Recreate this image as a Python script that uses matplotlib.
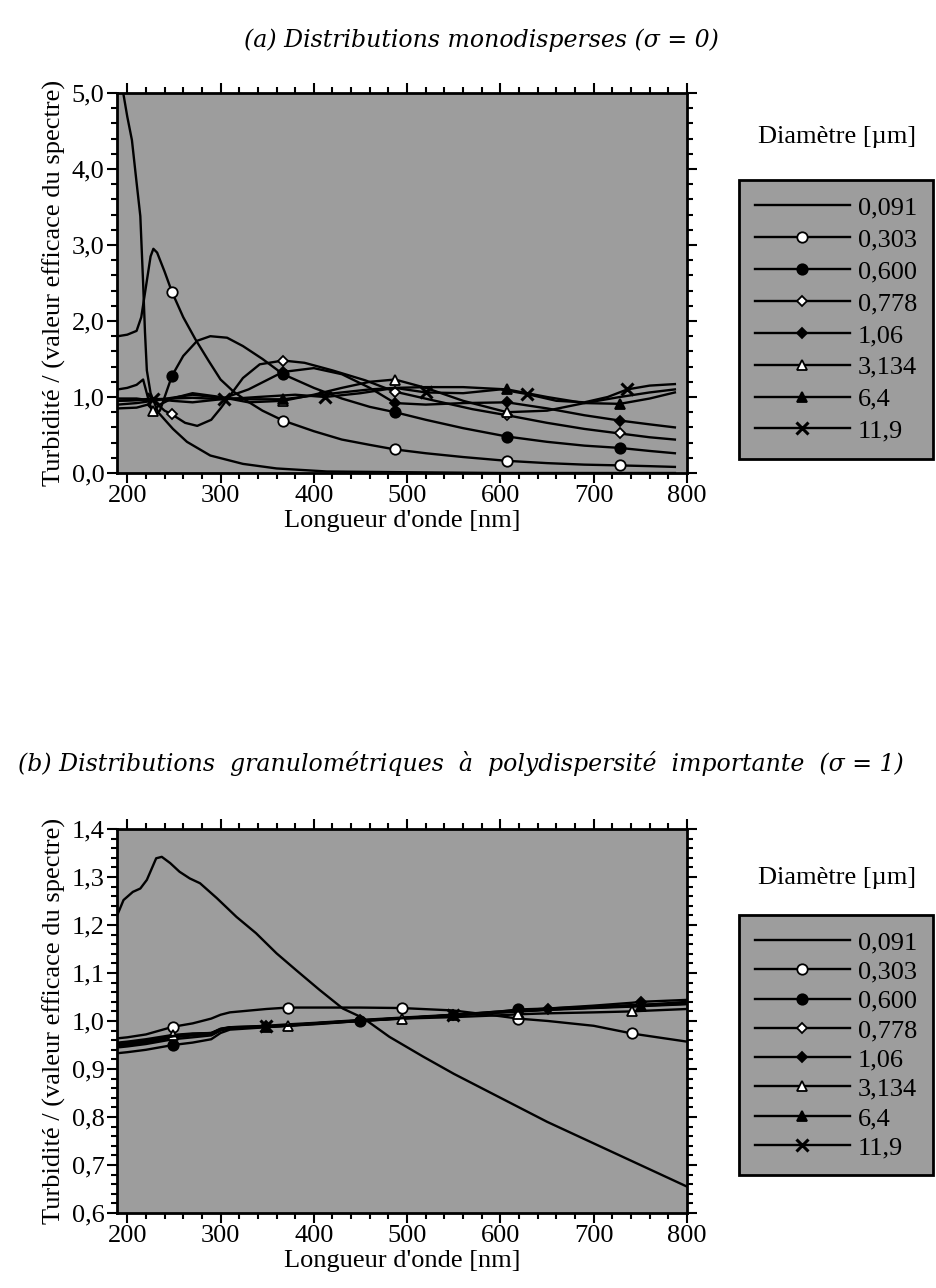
import numpy as np
import matplotlib
matplotlib.use("Agg")
from matplotlib import pyplot as plt
from matplotlib.ticker import MultipleLocator, FuncFormatter

# ---- (a) sigma = 0 : distributions monodisperses ----
top_x_091 = [191, 195, 200, 205, 210, 214, 217, 219, 221, 225, 233, 249, 264, 289, 324, 360, 414, 500, 600, 700, 787]
top_y_091 = [5.60, 5.05, 4.69, 4.38, 3.82, 3.38, 2.50, 1.85, 1.35, 1.05, 0.80, 0.58, 0.41, 0.23, 0.12, 0.06, 0.02, 0.01, 0.0, 0.0, 0.0]

top_x_303 = [190, 200, 210, 215, 220, 225, 228, 232, 240, 248, 260, 273, 287, 300, 314, 328, 345, 367, 400, 430, 460, 487, 520, 560, 607, 650, 690, 728, 760, 787]
top_y_303 = [1.80, 1.82, 1.87, 2.05, 2.45, 2.85, 2.95, 2.90, 2.65, 2.38, 2.05, 1.76, 1.48, 1.23, 1.07, 0.95, 0.82, 0.69, 0.55, 0.44, 0.37, 0.31, 0.26, 0.21, 0.16, 0.13, 0.11, 0.10, 0.09, 0.08]

top_x_600 = [190, 200, 210, 217, 222, 228, 235, 248, 260, 275, 289, 307, 324, 345, 367, 400, 430, 460, 487, 520, 560, 607, 650, 690, 728, 760, 787]
top_y_600 = [1.10, 1.12, 1.16, 1.23, 1.00, 0.76, 0.82, 1.28, 1.54, 1.74, 1.80, 1.78, 1.67, 1.50, 1.30, 1.12, 0.98, 0.87, 0.80, 0.70, 0.59, 0.48, 0.41, 0.36, 0.33, 0.29, 0.26]

top_x_778 = [190, 210, 228, 240, 248, 262, 275, 290, 300, 312, 324, 342, 367, 390, 420, 455, 487, 530, 570, 607, 650, 690, 728, 760, 787]
top_y_778 = [0.90, 0.92, 0.95, 0.82, 0.77, 0.66, 0.62, 0.70, 0.85, 1.05, 1.25, 1.43, 1.48, 1.45, 1.35, 1.22, 1.07, 0.95, 0.84, 0.76, 0.66, 0.58, 0.52, 0.47, 0.44]

top_x_106 = [190, 210, 228, 248, 270, 300, 330, 367, 400, 430, 460, 487, 520, 560, 607, 650, 690, 728, 760, 787]
top_y_106 = [0.95, 0.96, 0.98, 0.95, 0.93, 0.97, 1.10, 1.33, 1.38, 1.30, 1.12, 0.92, 0.90, 0.92, 0.93, 0.85, 0.76, 0.69, 0.64, 0.60]

top_x_3134 = [190, 210, 222, 228, 235, 248, 270, 300, 330, 367, 400, 430, 460, 487, 520, 560, 607, 650, 690, 728, 760, 787]
top_y_3134 = [0.85, 0.86, 0.90, 0.82, 0.90, 0.98, 1.05, 1.00, 0.93, 0.95, 1.03, 1.12, 1.20, 1.23, 1.12, 0.95, 0.80, 0.82, 0.92, 1.00, 1.06, 1.10]

top_x_64 = [190, 210, 228, 248, 270, 300, 330, 367, 400, 430, 460, 487, 520, 560, 607, 650, 690, 728, 760, 787]
top_y_64 = [0.98, 0.98, 0.95, 0.99, 1.03, 0.99, 0.97, 0.97, 1.02, 1.06, 1.10, 1.12, 1.13, 1.13, 1.10, 1.00, 0.92, 0.91, 0.98, 1.06]

top_x_119 = [190, 210, 228, 248, 270, 304, 340, 380, 412, 450, 487, 520, 560, 600, 628, 660, 690, 715, 736, 760, 787]
top_y_119 = [0.95, 0.96, 0.97, 0.98, 0.99, 0.97, 1.00, 1.03, 1.00, 1.05, 1.12, 1.06, 1.05, 1.10, 1.04, 0.95, 0.93, 1.00, 1.10, 1.15, 1.17]

top_marks = {
    "0,091": [],
    "0,303": [248, 367, 487, 607, 728],
    "0,600": [248, 367, 487, 607, 728],
    "0,778": [248, 367, 487, 607, 728],
    "1,06": [367, 487, 607, 728],
    "3,134": [228, 367, 487, 607],
    "6,4": [367, 607, 728],
    "11,9": [228, 304, 412, 520, 628, 736],
}

# ---- (b) sigma = 1 : forte polydispersite ----
bot_x_091 = [190, 196, 206, 214, 221, 231, 237, 246, 256, 267, 278, 296, 317, 338, 360, 381, 406, 431, 453, 481, 517, 550, 600, 650, 700, 750, 800]
bot_y_091 = [1.224, 1.252, 1.269, 1.276, 1.294, 1.339, 1.342, 1.329, 1.311, 1.297, 1.287, 1.256, 1.217, 1.183, 1.141, 1.106, 1.065, 1.026, 1.006, 0.967, 0.926, 0.890, 0.840, 0.790, 0.745, 0.700, 0.655]

bot_x = [190, 200, 220, 249, 270, 290, 300, 310, 349, 372, 400, 449, 494, 549, 600, 619, 651, 700, 741, 751, 800]
bot_y_303 = [0.964, 0.966, 0.972, 0.988, 0.995, 1.005, 1.013, 1.018, 1.025, 1.028, 1.028, 1.028, 1.027, 1.022, 1.010, 1.005, 1.000, 0.990, 0.974, 0.971, 0.957]
bot_y_600 = [0.933, 0.935, 0.940, 0.950, 0.955, 0.962, 0.975, 0.982, 0.987, 0.990, 0.993, 1.000, 1.005, 1.012, 1.020, 1.024, 1.026, 1.030, 1.033, 1.034, 1.037]
bot_y_778 = [0.945, 0.947, 0.952, 0.962, 0.966, 0.970, 0.980, 0.985, 0.989, 0.991, 0.995, 1.001, 1.006, 1.012, 1.018, 1.020, 1.024, 1.028, 1.032, 1.033, 1.040]
bot_y_106 = [0.947, 0.950, 0.955, 0.966, 0.970, 0.973, 0.983, 0.987, 0.990, 0.993, 0.996, 1.002, 1.007, 1.013, 1.020, 1.022, 1.026, 1.032, 1.038, 1.040, 1.044]
bot_y_3134 = [0.955, 0.957, 0.962, 0.971, 0.974, 0.975, 0.982, 0.985, 0.988, 0.990, 0.995, 1.000, 1.005, 1.008, 1.012, 1.014, 1.016, 1.018, 1.020, 1.021, 1.025]
bot_y_64 = [0.950, 0.952, 0.957, 0.968, 0.972, 0.974, 0.983, 0.986, 0.988, 0.990, 0.994, 1.000, 1.006, 1.012, 1.018, 1.020, 1.023, 1.027, 1.030, 1.031, 1.035]
bot_y_119 = [0.952, 0.954, 0.959, 0.969, 0.973, 0.975, 0.984, 0.987, 0.989, 0.991, 0.995, 1.001, 1.006, 1.012, 1.018, 1.021, 1.024, 1.028, 1.031, 1.032, 1.036]

bot_marks = {
    "0,091": [],
    "0,303": [249, 372, 494, 619, 741],
    "0,600": [249, 449, 619],
    "0,778": [349, 549, 751],
    "1,06": [449, 651, 751],
    "3,134": [249, 372, 494, 619, 741],
    "6,4": [349, 549, 751],
    "11,9": [349, 549],
}

labels = ["0,091", "0,303", "0,600", "0,778", "1,06", "3,134", "6,4", "11,9"]

# marker style for each diameter
styles = {
    "0,091": dict(marker=None),
    "0,303": dict(marker="o", mfc="white", ms=7.5),
    "0,600": dict(marker="o", mfc="black", ms=7.5),
    "0,778": dict(marker="D", mfc="white", ms=5.5),
    "1,06": dict(marker="D", mfc="black", ms=5.5),
    "3,134": dict(marker="^", mfc="white", ms=7.5),
    "6,4": dict(marker="^", mfc="black", ms=7.5),
    "11,9": dict(marker="x", mfc="black", ms=8, mew=2.2),
}

SERIF = "Liberation Serif"
BG = "#9d9d9d"
FS = 19
plt.rcParams["font.family"] = SERIF
plt.rcParams["font.size"] = FS


def comma(v, pos):
    return ("%.1f" % v).replace(".", ",")


def draw(ax, series, marks, ylim, ymaj, ymin_):
    handles = []
    for lab in labels:
        xs, ys = series[lab]
        st = dict(styles[lab])
        mk = st.pop("marker")
        idx = [xs.index(m) for m in marks[lab]]
        mew = st.pop("mew", 1.3)
        h, = ax.plot(xs, ys, color="black", lw=1.7, marker=mk, markevery=idx if mk else None,
                     mec="black", mew=mew, label=lab, **st)
        handles.append(h)
    ax.set_facecolor(BG)
    ax.set_xlim(189, 800)
    ax.set_ylim(*ylim)
    ax.xaxis.set_major_locator(MultipleLocator(100))
    ax.xaxis.set_minor_locator(MultipleLocator(20))
    ax.yaxis.set_major_locator(MultipleLocator(ymaj))
    ax.yaxis.set_minor_locator(MultipleLocator(ymin_))
    ax.yaxis.set_major_formatter(FuncFormatter(comma))
    ax.tick_params(which="both", direction="out", top=True, right=True, width=1.5, labelsize=FS, pad=2)
    ax.tick_params(which="major", length=7)
    ax.tick_params(which="minor", length=4)
    for s in ax.spines.values():
        s.set_linewidth(2)
    ax.set_xlabel("Longueur d'onde [nm]", fontsize=FS, labelpad=2)
    ax.set_ylabel("Turbidité / (valeur efficace du spectre)", fontsize=FS, labelpad=4)
    return handles


fig = plt.figure(figsize=(9.36, 12.88), dpi=100)

top_series = {
    "0,091": (top_x_091, top_y_091), "0,303": (top_x_303, top_y_303),
    "0,600": (top_x_600, top_y_600), "0,778": (top_x_778, top_y_778),
    "1,06": (top_x_106, top_y_106), "3,134": (top_x_3134, top_y_3134),
    "6,4": (top_x_64, top_y_64), "11,9": (top_x_119, top_y_119),
}
bot_series = {
    "0,091": (bot_x_091, bot_y_091), "0,303": (bot_x, bot_y_303),
    "0,600": (bot_x, bot_y_600), "0,778": (bot_x, bot_y_778),
    "1,06": (bot_x, bot_y_106), "3,134": (bot_x, bot_y_3134),
    "6,4": (bot_x, bot_y_64), "11,9": (bot_x, bot_y_119),
}

ax1 = fig.add_axes([117 / 936, 1 - 473 / 1288, 570 / 936, 380 / 1288])
h1 = draw(ax1, top_series, top_marks, (0, 5), 1, 0.2)

ax2 = fig.add_axes([117 / 936, 1 - 1213 / 1288, 570 / 936, 384 / 1288])
h2 = draw(ax2, bot_series, bot_marks, (0.6, 1.4), 0.1, 0.02)

fig.text(481 / 936, 1 - 40 / 1288, "(a) Distributions monodisperses (σ = 0)",
         ha="center", va="center", style="italic", fontsize=17, family="DejaVu Serif")
fig.text(461 / 936, 1 - 763 / 1288,
         "(b) Distributions  granulométriques  à  polydispersité  importante  (σ = 1)",
         ha="center", va="center", style="italic", fontsize=17, family="DejaVu Serif")

for handles, ty, by, sp in [(h1, 137, 180, 0.32), (h2, 878, 915, 0.22)]:
    fig.text(837 / 936, 1 - ty / 1288, "Diamètre [µm]", ha="center", va="center", fontsize=FS)
    leg = fig.legend(handles=handles, loc="upper left", bbox_to_anchor=(739 / 936, 1 - by / 1288),
                     frameon=True, fancybox=False, handlelength=3.6, handletextpad=0.3,
                     labelspacing=sp, borderpad=0.6, fontsize=FS, borderaxespad=0)
    fr = leg.get_frame()
    fr.set_facecolor(BG)
    fr.set_edgecolor("black")
    fr.set_linewidth(2)
    fr.set_alpha(1)

fig.savefig("out.png", dpi=100)
